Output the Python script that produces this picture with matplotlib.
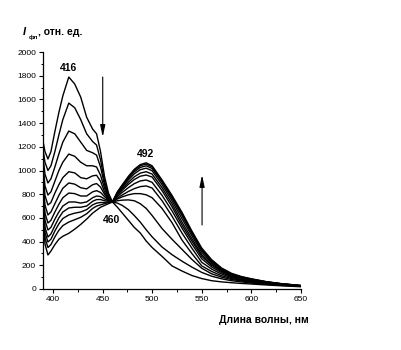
import matplotlib
matplotlib.use("Agg")
import matplotlib.pyplot as plt
from matplotlib.ticker import MultipleLocator

plt.rcParams["font.family"] = ["Liberation Sans", "DejaVu Sans"]

# wavelength grid (nm)
wl = [390, 392, 395, 398, 402, 406, 410, 416, 422, 428, 434, 440, 444, 448, 452, 456,
      460, 465, 470, 476, 482, 488, 494, 500, 510, 520, 530, 540, 550, 560, 570, 580,
      590, 600, 615, 630, 650]

# fluorescence spectra, first (416 nm high) to last (492 nm high)
c1 = [1250, 1160, 1097, 1160, 1330, 1490, 1630, 1789, 1730, 1620, 1450, 1350, 1310, 1160, 950, 810,
      734, 690, 640, 580, 520, 473, 405, 350, 275, 195, 152, 114, 88, 70, 60, 53, 47, 42, 34, 27, 19]
c2 = [1180, 1070, 1000, 1040, 1160, 1300, 1430, 1569, 1530, 1430, 1310, 1245, 1215, 1090, 910, 790,
      734, 725, 705, 670, 620, 565, 500, 440, 354, 290, 235, 185, 140, 108, 86, 70, 60, 50, 40, 31, 22]
c3 = [1120, 970, 895, 930, 1030, 1140, 1240, 1333, 1310, 1240, 1170, 1150, 1130, 1030, 880, 780,
      734, 745, 750, 752, 745, 720, 680, 620, 510, 420, 335, 250, 175, 128, 100, 80, 68, 56, 44, 34, 23]
c4 = [1060, 870, 793, 820, 910, 1000, 1070, 1139, 1120, 1070, 1040, 1040, 1030, 960, 850, 770,
      734, 760, 778, 795, 805, 805, 795, 770, 680, 560, 414, 300, 195, 148, 112, 88, 74, 61, 47, 36, 24]
c5 = [1000, 790, 709, 730, 810, 880, 940, 990, 980, 940, 930, 955, 960, 910, 820, 760,
      734, 769, 794, 823, 847, 864, 870, 852, 745, 615, 473, 345, 225, 168, 126, 96, 80, 65, 50, 38, 25]
c6 = [950, 710, 625, 650, 720, 790, 850, 895, 885, 855, 845, 880, 890, 860, 800, 755,
      734, 782, 816, 855, 889, 912, 920, 900, 790, 660, 515, 380, 255, 186, 138, 103, 85, 69, 53, 40, 26]
c7 = [900, 640, 557, 580, 650, 715, 770, 810, 805, 785, 785, 820, 830, 815, 780, 750,
      734, 793, 835, 883, 924, 952, 962, 945, 830, 695, 540, 405, 275, 200, 148, 110, 90, 73, 55, 41, 27]
c8 = [850, 580, 498, 520, 590, 650, 700, 734, 735, 725, 735, 770, 785, 780, 760, 745,
      734, 800, 847, 901, 947, 978, 990, 970, 855, 720, 565, 425, 290, 210, 155, 115, 94, 76, 57, 42, 27]
c9 = [800, 520, 439, 465, 535, 600, 650, 684, 690, 690, 700, 740, 755, 755, 745, 740,
      734, 808, 860, 921, 972, 1007, 1020, 998, 880, 745, 595, 450, 310, 222, 162, 120, 97, 79, 58, 43, 28]
c10 = [760, 475, 397, 420, 490, 550, 595, 625, 640, 650, 670, 710, 725, 730, 730, 735,
       734, 813, 869, 934, 989, 1026, 1040, 1017, 900, 765, 620, 468, 325, 232, 168, 125, 100, 82, 60, 44, 28]
c11 = [720, 430, 350, 375, 440, 495, 535, 565, 585, 605, 635, 680, 700, 710, 720, 730,
       734, 817, 876, 944, 1002, 1040, 1055, 1030, 910, 780, 635, 480, 335, 240, 172, 128, 102, 84, 61, 45, 29]
c12 = [680, 380, 287, 320, 375, 420, 445, 470, 505, 545, 590, 640, 665, 690, 705, 720,
       734, 820, 880, 950, 1010, 1050, 1065, 1040, 920, 790, 648, 490, 345, 247, 177, 132, 105, 86, 62, 45, 29]
spectra = [c1, c2, c3, c4, c5, c6, c7, c8, c9, c10, c11, c12]

fig = plt.figure(figsize=(4.01, 3.5), dpi=100)
ax = fig.add_axes([0.1072, 0.1743, 0.6434, 0.677])

for s in spectra:
    ax.plot(wl, s, color="black", lw=1.0)

ax.set_xlim(390, 650)
ax.set_ylim(0, 2000)
ax.xaxis.set_major_locator(MultipleLocator(50))
ax.xaxis.set_minor_locator(MultipleLocator(25))
ax.yaxis.set_major_locator(MultipleLocator(200))
ax.yaxis.set_minor_locator(MultipleLocator(100))
for sp in ["top", "right"]:
    ax.spines[sp].set_visible(False)
for sp in ["left", "bottom"]:
    ax.spines[sp].set_linewidth(0.9)
ax.tick_params(which="major", direction="out", length=3, width=0.8, labelsize=6, pad=2)
ax.tick_params(which="minor", direction="out", length=1.8, width=0.7)

# peak labels
ax.text(415.7, 1865, "416", ha="center", va="center", fontsize=7.5, fontweight="bold")
ax.text(493.5, 1139, "492", ha="center", va="center", fontsize=7.5, fontweight="bold")
ax.text(459.2, 582, "460", ha="center", va="center", fontsize=7.5, fontweight="bold")

# arrows
arr = dict(arrowstyle="-|>,head_length=0.7,head_width=0.15", lw=0.8, color="black",
           shrinkA=0, shrinkB=0, mutation_scale=10)
ax.annotate("", xy=(450.2, 1283), xytext=(450.2, 1789), arrowprops=arr)
ax.annotate("", xy=(550.3, 962), xytext=(550.3, 540), arrowprops=arr)

# axis titles
fig.text(0.057, 0.9, "I", fontsize=8, fontweight="bold", style="italic", va="baseline")
fig.text(0.072, 0.89, "фл", fontsize=4.5, fontweight="bold", va="baseline")
fig.text(0.094, 0.9, ", отн. ед.", fontsize=7.5, fontweight="bold", va="baseline")
fig.text(0.658, 0.086, "Длина волны, нм", fontsize=7.5, fontweight="bold", ha="center", va="center")

fig.savefig("out.png", dpi=100)
